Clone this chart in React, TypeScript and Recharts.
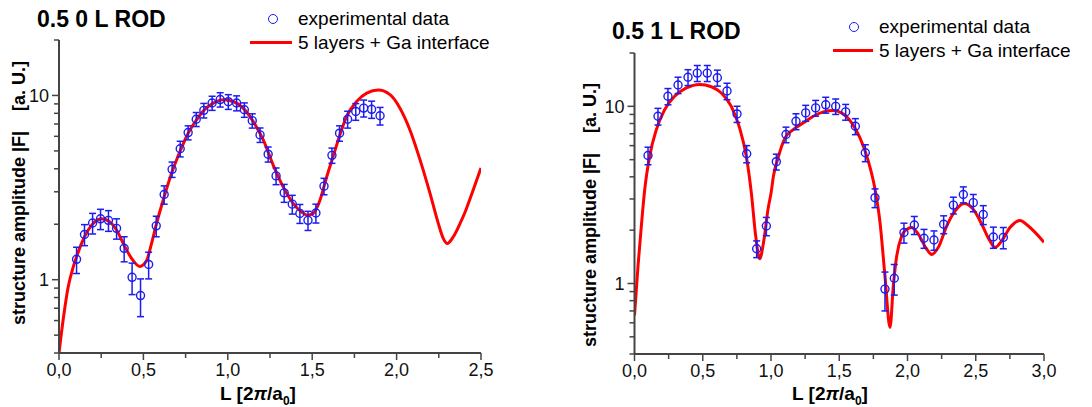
import { ComposedChart, Line, Scatter, ErrorBar, XAxis, YAxis } from "recharts";

const font = '"Liberation Sans", Arial, sans-serif';
const axisColor = "#444";
const blue = "#1c1cf0";
const red = "#ff0000";

// 0.5 0 L rod: measured points
const rod0L = [0.104, 0.151, 0.199, 0.246, 0.293, 0.341, 0.386, 0.433, 0.483, 0.531, 0.576, 0.623, 0.670, 0.718, 0.765, 0.813, 0.858, 0.907, 0.955, 1.003, 1.052, 1.098, 1.145, 1.191, 1.239, 1.286, 1.334, 1.382, 1.427, 1.475, 1.522, 1.570, 1.617, 1.662, 1.710, 1.758, 1.805, 1.852, 1.902];
const rod0F = [1.29, 1.76, 2.03, 2.14, 2.10, 1.90, 1.48, 1.03, 0.82, 1.21, 1.96, 2.90, 3.97, 5.14, 6.29, 7.43, 8.3, 9.1, 9.5, 9.25, 9.1, 8.36, 7.3, 6.11, 4.8, 3.66, 2.96, 2.57, 2.29, 2.10, 2.30, 3.22, 4.73, 6.24, 7.43, 8.18, 8.54, 8.41, 7.76];
const rod0Err = [0.21, 0.23, 0.26, 0.27, 0.27, 0.24, 0.23, 0.2, 0.19, 0.2, 0.25, 0.33, 0.38, 0.5, 0.55, 0.65, 0.75, 0.8, 0.85, 0.85, 0.85, 0.75, 0.65, 0.55, 0.45, 0.38, 0.33, 0.3, 0.27, 0.25, 0.27, 0.33, 0.45, 0.6, 0.78, 0.85, 0.9, 0.9, 0.85];

// 0.5 0 L rod: fit curve
const fit0L = [0, 0.024, 0.054, 0.084, 0.104, 0.133, 0.173, 0.212, 0.252, 0.301, 0.341, 0.39, 0.439, 0.479, 0.519, 0.548, 0.578, 0.617, 0.667, 0.716, 0.765, 0.815, 0.864, 0.914, 0.973, 1.032, 1.091, 1.151, 1.21, 1.269, 1.328, 1.388, 1.437, 1.471, 1.506, 1.546, 1.586, 1.625, 1.664, 1.704, 1.763, 1.823, 1.892, 1.961, 2.02, 2.079, 2.139, 2.198, 2.247, 2.277, 2.3, 2.336, 2.376, 2.406, 2.45, 2.5];
const fit0F = [0.4, 0.6, 0.91, 1.17, 1.33, 1.57, 1.86, 2.06, 2.14, 2.06, 1.86, 1.51, 1.27, 1.18, 1.27, 1.57, 2.02, 2.7, 3.78, 4.95, 6.24, 7.38, 8.4, 9.09, 9.48, 9.27, 8.53, 7.21, 5.74, 4.19, 3.19, 2.59, 2.33, 2.24, 2.29, 2.7, 3.62, 4.7, 6.1, 7.69, 9.27, 10.3, 10.7, 10.1, 8.53, 6.5, 4.47, 2.94, 2.02, 1.67, 1.57, 1.71, 2.02, 2.33, 3.0, 4.04];

// 0.5 1 L rod: measured points
const rod1L = [0.099, 0.172, 0.245, 0.319, 0.392, 0.46, 0.533, 0.607, 0.678, 0.751, 0.822, 0.895, 0.966, 1.039, 1.11, 1.183, 1.254, 1.327, 1.401, 1.474, 1.547, 1.618, 1.691, 1.762, 1.835, 1.903, 1.974, 2.05, 2.121, 2.194, 2.265, 2.336, 2.409, 2.482, 2.555, 2.629, 2.702];
const rod1F = [5.28, 8.79, 11.4, 13.2, 14.6, 15.4, 15.4, 14.5, 12.2, 9.06, 5.4, 1.57, 2.11, 4.87, 6.93, 8.23, 9.18, 9.8, 10.2, 10.0, 9.3, 7.72, 5.47, 3.05, 0.93, 1.07, 1.94, 2.14, 1.8, 1.76, 2.16, 2.77, 3.18, 2.86, 2.45, 1.83, 1.82];
const rod1Err = [0.6, 0.95, 1.2, 1.4, 1.5, 1.6, 1.6, 1.5, 1.3, 0.95, 0.6, 0.17, 0.25, 0.5, 0.7, 0.85, 0.95, 1.0, 1.05, 1.0, 0.95, 0.8, 0.6, 0.37, 0.23, 0.21, 0.25, 0.25, 0.22, 0.22, 0.25, 0.3, 0.33, 0.32, 0.3, 0.25, 0.25];

// 0.5 1 L rod: fit curve
const fit1L = [0, 0.026, 0.05, 0.075, 0.111, 0.16, 0.221, 0.294, 0.38, 0.477, 0.563, 0.636, 0.709, 0.77, 0.819, 0.856, 0.888, 0.917, 0.949, 0.978, 1.002, 1.017, 1.051, 1.103, 1.163, 1.237, 1.31, 1.383, 1.456, 1.53, 1.591, 1.652, 1.713, 1.762, 1.799, 1.835, 1.872, 1.896, 1.921, 1.957, 1.994, 2.031, 2.079, 2.141, 2.177, 2.226, 2.287, 2.348, 2.414, 2.482, 2.544, 2.604, 2.641, 2.69, 2.751, 2.824, 2.885, 3.0];
const fit1F = [0.66, 1.26, 2.11, 3.4, 5.23, 7.39, 9.58, 11.4, 12.7, 13.3, 12.9, 11.9, 10.0, 7.55, 5.23, 3.25, 1.85, 1.38, 1.78, 2.62, 3.3, 4.0, 5.1, 6.64, 7.39, 8.07, 8.79, 9.3, 9.46, 9.06, 8.07, 6.64, 4.9, 3.4, 2.2, 1.1, 0.565, 0.97, 1.43, 1.85, 2.02, 2.07, 1.9, 1.56, 1.46, 1.6, 2.11, 2.56, 2.83, 2.62, 2.16, 1.74, 1.6, 1.74, 2.07, 2.27, 2.11, 1.71];

const yTicks = [0.4, 0.5, 0.6, 0.7, 0.8, 0.9, 1, 2, 3, 4, 5, 6, 7, 8, 9, 10, 20];
const yMajor = [1, 10];
const xTicks0 = [0, 0.25, 0.5, 0.75, 1, 1.25, 1.5, 1.75, 2, 2.25, 2.5];
const xTicks1 = [0, 0.25, 0.5, 0.75, 1, 1.25, 1.5, 1.75, 2, 2.25, 2.5, 2.75, 3];

const toPoints = (L: number[], F: number[], err?: number[]) =>
  L.map((l, i) => ({ L: l, F: F[i], err: err ? err[i] : 0 }));

function YTick(props: any) {
  const { x, y, payload } = props;
  const major = yMajor.includes(payload.value);
  return (
    <g>
      <line x1={x} x2={x - (major ? 7 : 5)} y1={y} y2={y} stroke={axisColor} strokeWidth={1.5} />
      {major && (
        <text x={x - 10} y={y} dy="0.35em" textAnchor="end" fontSize={18} fontFamily={font} fill="#111">
          {payload.value}
        </text>
      )}
    </g>
  );
}

function XTick(props: any) {
  const { x, y, payload } = props;
  const major = Math.abs(payload.value * 2 - Math.round(payload.value * 2)) < 1e-6;
  return (
    <g>
      <line x1={x} x2={x} y1={y} y2={y + (major ? 7 : 5)} stroke={axisColor} strokeWidth={1.5} />
      {major && (
        <text x={x} y={y + 23} textAnchor="middle" fontSize={18} fontFamily={font} fill="#111">
          {payload.value.toFixed(1).replace(".", ",")}
        </text>
      )}
    </g>
  );
}

const Ring = (props: any) => (
  <circle cx={props.cx} cy={props.cy} r={4} fill="none" stroke={blue} strokeWidth={1.4} />
);

function RodChart(props: {
  width: number;
  margin: { top: number; right: number; left: number; bottom: number };
  xMax: number;
  xTicks: number[];
  points: { L: number; F: number; err: number }[];
  fit: { L: number; F: number; err: number }[];
}) {
  return (
    <ComposedChart width={props.width} height={407} margin={props.margin}>
      <XAxis
        type="number"
        dataKey="L"
        domain={[0, props.xMax]}
        ticks={props.xTicks}
        interval={0}
        allowDataOverflow
        height={30}
        tickSize={0}
        tickMargin={0}
        tickLine={false}
        tick={<XTick />}
        axisLine={{ stroke: axisColor, strokeWidth: 2 }}
      />
      <YAxis
        type="number"
        dataKey="F"
        scale="log"
        domain={[0.4, 20]}
        ticks={yTicks}
        interval={0}
        allowDataOverflow
        width={50}
        tickSize={0}
        tickMargin={0}
        tickLine={false}
        tick={<YTick />}
        axisLine={{ stroke: axisColor, strokeWidth: 2 }}
      />
      <Line
        data={props.fit}
        dataKey="F"
        type="monotone"
        stroke={red}
        strokeWidth={3}
        dot={false}
        isAnimationActive={false}
      />
      <Scatter data={props.points} dataKey="F" shape={<Ring />} isAnimationActive={false}>
        <ErrorBar dataKey="err" direction="y" width={3.5} stroke={blue} strokeWidth={1.5} />
      </Scatter>
    </ComposedChart>
  );
}

const text = (extra: any) => ({
  position: "absolute" as const,
  fontFamily: font,
  color: "#000",
  whiteSpace: "pre" as const,
  lineHeight: 1,
  ...extra,
});

function LegendBox(props: { left: number; top: number; lineLeft: number }) {
  return (
    <>
      <div
        style={{
          position: "absolute",
          left: props.left - 30,
          top: props.top - 5,
          width: 8,
          height: 8,
          borderRadius: "50%",
          border: `1.4px solid ${blue}`,
        }}
      />
      <div style={text({ left: props.left, top: props.top - 10, fontSize: 19 })}>experimental data</div>
      <div
        style={{
          position: "absolute",
          left: props.lineLeft,
          top: props.top + 22,
          width: props.left - props.lineLeft - 6,
          height: 3,
          background: red,
        }}
      />
      <div style={text({ left: props.left, top: props.top + 14, fontSize: 19 })}>5 layers + Ga interface</div>
    </>
  );
}

function AxisTitles(props: { yx: number; yy: number; xx: number; xy: number }) {
  return (
    <>
      <div
        style={text({
          left: props.yx,
          top: props.yy,
          fontSize: 18,
          fontWeight: "bold",
          transform: "translate(-50%, -50%) rotate(-90deg)",
        })}
      >
        {"structure amplitude |F|    [a. U.]"}
      </div>
      <div
        style={text({
          left: props.xx,
          top: props.xy,
          fontSize: 19,
          fontWeight: "bold",
          transform: "translateX(-50%)",
        })}
      >
        L [2<i>π</i>/a<sub style={{ fontSize: 12 }}>0</sub>]
      </div>
    </>
  );
}

export default function App() {
  const pts0 = toPoints(rod0L, rod0F, rod0Err);
  const curve0 = toPoints(fit0L, fit0F);
  const pts1 = toPoints(rod1L, rod1F, rod1Err);
  const curve1 = toPoints(fit1L, fit1F);

  return (
    <div style={{ position: "absolute", left: 0, top: 0, width: 1092, height: 407, background: "#fff", overflow: "hidden" }}>
      <div style={{ position: "absolute", left: 0, top: 0 }}>
        <RodChart
          width={500}
          margin={{ top: 40, right: 19, left: 9, bottom: 24 }}
          xMax={2.5}
          xTicks={xTicks0}
          points={pts0}
          fit={curve0}
        />
      </div>
      <div style={{ position: "absolute", left: 560, top: 0 }}>
        <RodChart
          width={532}
          margin={{ top: 53, right: 48, left: 24.5, bottom: 23 }}
          xMax={3}
          xTicks={xTicks1}
          points={pts1}
          fit={curve1}
        />
      </div>

      <div style={text({ left: 37, top: 8, fontSize: 23, fontWeight: "bold" })}>0.5 0 L ROD</div>
      <div style={text({ left: 612, top: 20, fontSize: 23, fontWeight: "bold" })}>0.5 1 L ROD</div>

      <LegendBox left={298} top={19} lineLeft={250} />
      <LegendBox left={879} top={27} lineLeft={833} />

      <AxisTitles yx={19} yy={193} xx={258} xy={384} />
      <AxisTitles yx={590} yy={215} xx={830} xy={384} />
    </div>
  );
}
